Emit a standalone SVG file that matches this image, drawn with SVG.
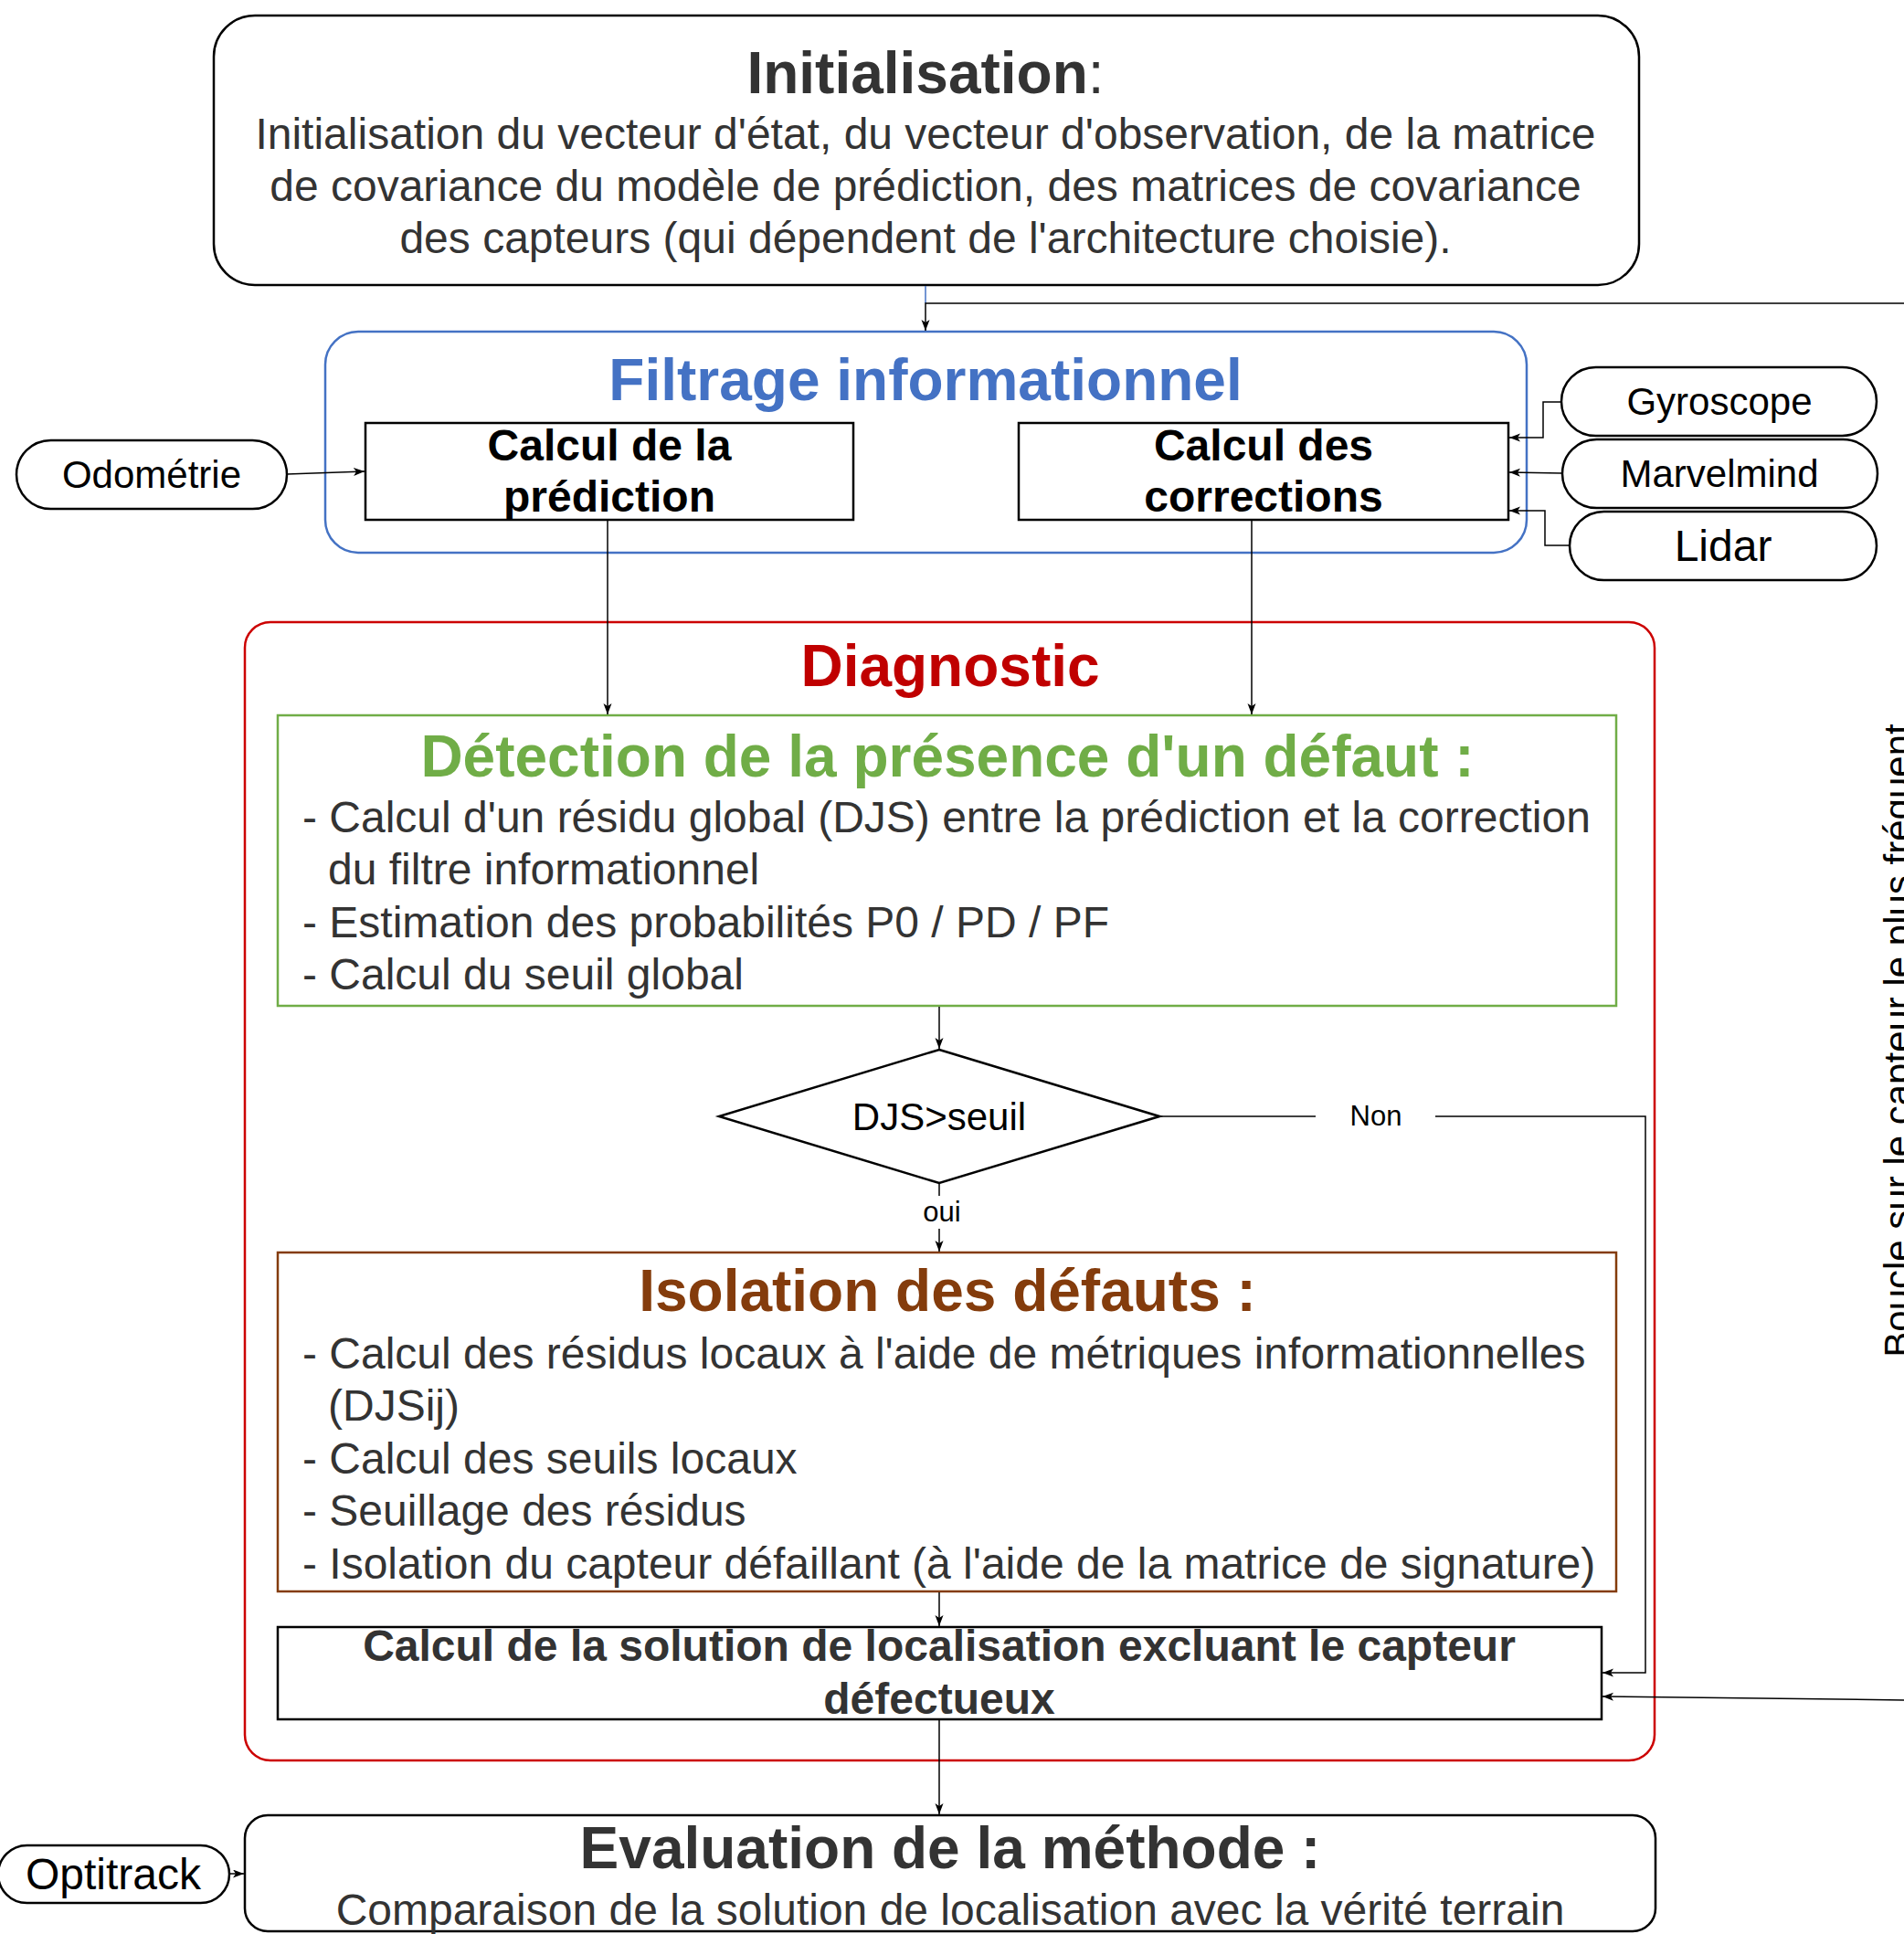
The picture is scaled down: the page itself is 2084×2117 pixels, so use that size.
<svg xmlns="http://www.w3.org/2000/svg" width="2084" height="2117" viewBox="0 0 2084 2117">
<style>
text{font-family:"Liberation Sans",Arial,Helvetica,sans-serif;}
.b{font-weight:bold;}
.t64{font-size:64px;}
.t48{font-size:48px;}
.t42{font-size:42px;}
.t31{font-size:31px;}
.dk{fill:#333333;}
.bk{fill:#000000;}
.mid{text-anchor:middle;}
.box{fill:#ffffff;stroke:#000000;stroke-width:2.5;}
.conn{fill:none;stroke:#000000;stroke-width:1.5;}
</style>
<defs>
<marker id="arr" markerUnits="userSpaceOnUse" markerWidth="14" markerHeight="10" refX="12" refY="4.5" orient="auto">
<path d="M0,0 L12,4.5 L0,9 L3,4.5 z" fill="#000000"/>
</marker>
</defs>
<rect width="2084" height="2117" fill="#ffffff"/>

<g id="initialisation">
<rect class="box" x="234" y="17" width="1560" height="295" rx="45" ry="45"/>
<text x="1013" y="102" class="t64 dk mid"><tspan class="b">Initialisation</tspan>:</text>
<text x="1013" y="163" class="t48 dk mid">Initialisation du vecteur d'état, du vecteur d'observation, de la matrice</text>
<text x="1013" y="220" class="t48 dk mid">de covariance du modèle de prédiction, des matrices de covariance</text>
<text x="1013" y="277" class="t48 dk mid">des capteurs (qui dépendent de l'architecture choisie).</text>
</g>

<g id="filtrage">
<rect x="356" y="363" width="1315" height="242" rx="36" ry="36" fill="#ffffff" stroke="#4472C4" stroke-width="2.5"/>
<text x="1013" y="438" class="t64 b mid" fill="#4472C4">Filtrage informationnel</text>
</g>

<g id="prediction">
<rect class="box" x="400" y="463" width="534" height="106"/>
<text x="667" y="504" class="t48 b bk mid">Calcul de la</text>
<text x="667" y="560" class="t48 b bk mid">prédiction</text>
</g>

<g id="corrections">
<rect class="box" x="1115" y="463" width="536" height="106"/>
<text x="1383" y="504" class="t48 b bk mid">Calcul des</text>
<text x="1383" y="560" class="t48 b bk mid">corrections</text>
</g>

<g id="odometrie">
<rect class="box" x="18" y="482" width="296" height="75" rx="37.5" ry="37.5"/>
<text x="166" y="534" class="t42 bk mid">Odométrie</text>
</g>

<g id="gyroscope">
<rect class="box" x="1709" y="402" width="345" height="75" rx="37.5" ry="37.5"/>
<text x="1882" y="454" class="t42 bk mid">Gyroscope</text>
</g>

<g id="marvelmind">
<rect class="box" x="1710" y="481" width="345" height="75" rx="37.5" ry="37.5"/>
<text x="1882" y="533" class="t42 bk mid">Marvelmind</text>
</g>

<g id="lidar">
<rect class="box" x="1718" y="560" width="336" height="75" rx="37.5" ry="37.5"/>
<text x="1886" y="614" class="t48 bk mid">Lidar</text>
</g>

<g id="diagnostic">
<rect x="268" y="681" width="1543" height="1246" rx="28" ry="28" fill="#ffffff" stroke="#CC0000" stroke-width="2.5"/>
<text x="1040" y="751" class="t64 b mid" fill="#C00000">Diagnostic</text>
</g>

<g id="detection">
<rect x="304" y="783" width="1465" height="318" fill="#ffffff" stroke="#70AD47" stroke-width="2.5"/>
<text x="1037" y="850" class="t64 b mid" fill="#70AD47">Détection de la présence d'un défaut :</text>
<text x="331" y="911" class="t48 dk">- Calcul d'un résidu global (DJS) entre la prédiction et la correction</text>
<text x="359" y="968" class="t48 dk">du filtre informationnel</text>
<text x="331" y="1026" class="t48 dk">- Estimation des probabilités P0 / PD / PF</text>
<text x="331" y="1083" class="t48 dk">- Calcul du seuil global</text>
</g>

<g id="decision">
<polygon points="1028,1149 1269,1222 1028,1295 787,1222" fill="#ffffff" stroke="#000000" stroke-width="2.5"/>
<text x="1028" y="1237" class="t42 bk mid">DJS&gt;seuil</text>
</g>

<g id="isolation">
<rect x="304" y="1371" width="1465" height="371" fill="#ffffff" stroke="#843C0C" stroke-width="2.5"/>
<text x="1037" y="1435" class="t64 b mid" fill="#843C0C">Isolation des défauts :</text>
<text x="331" y="1498" class="t48 dk">- Calcul des résidus locaux à l'aide de métriques informationnelles</text>
<text x="359" y="1555" class="t48 dk">(DJSij)</text>
<text x="331" y="1613" class="t48 dk">- Calcul des seuils locaux</text>
<text x="331" y="1670" class="t48 dk">- Seuillage des résidus</text>
<text x="331" y="1728" class="t48 dk">- Isolation du capteur défaillant (à l'aide de la matrice de signature)</text>
</g>

<g id="solution">
<rect class="box" x="304" y="1781" width="1449" height="101"/>
<text x="1028" y="1818" class="t48 b dk mid">Calcul de la solution de localisation excluant le capteur</text>
<text x="1028" y="1876" class="t48 b dk mid">défectueux</text>
</g>

<g id="evaluation">
<rect class="box" x="268" y="1987" width="1544" height="127" rx="25" ry="25"/>
<text x="1040" y="2045" class="t64 b dk mid">Evaluation de la méthode :</text>
<text x="1040" y="2107" class="t48 dk mid">Comparaison de la solution de localisation avec la vérité terrain</text>
</g>

<g id="optitrack">
<rect class="box" x="-2" y="2020" width="253" height="63" rx="31.5" ry="31.5"/>
<text x="124" y="2068" class="t48 bk mid">Optitrack</text>
</g>

<g id="connectors">
<line x1="1013" y1="313" x2="1013" y2="332" stroke="#4472C4" stroke-width="1.5"/>
<path class="conn" d="M2090,332 L1013,332 L1013,362" marker-end="url(#arr)"/>
<path class="conn" d="M314,519 L399,516" marker-end="url(#arr)"/>
<path class="conn" d="M1709,440 L1689,440 L1689,479 L1652,479" marker-end="url(#arr)"/>
<path class="conn" d="M1710,518 L1652,517" marker-end="url(#arr)"/>
<path class="conn" d="M1718,597 L1691,597 L1691,559 L1652,559" marker-end="url(#arr)"/>
<path class="conn" d="M665,570 L665,782" marker-end="url(#arr)"/>
<path class="conn" d="M1370,570 L1370,782" marker-end="url(#arr)"/>
<path class="conn" d="M1028,1102 L1028,1148" marker-end="url(#arr)"/>
<path class="conn" d="M1269,1222 L1440,1222"/>
<path class="conn" d="M1571,1222 L1801,1222 L1801,1831 L1754,1831" marker-end="url(#arr)"/>
<text x="1506" y="1232" class="t31 bk mid">Non</text>
<path class="conn" d="M1028,1296 L1028,1309"/>
<path class="conn" d="M1028,1345 L1028,1370" marker-end="url(#arr)"/>
<text x="1031" y="1337" class="t31 bk mid">oui</text>
<path class="conn" d="M1028,1743 L1028,1780" marker-end="url(#arr)"/>
<path class="conn" d="M2090,1861 L1754,1857" marker-end="url(#arr)"/>
<path class="conn" d="M1028,1883 L1028,1986" marker-end="url(#arr)"/>
<path class="conn" d="M251,2051 L267,2051" marker-end="url(#arr)"/>
<text x="2092" y="1139" class="t42 bk mid" transform="rotate(-90 2092 1139)">Boucle sur le capteur le plus fréquent</text>
</g>
</svg>
